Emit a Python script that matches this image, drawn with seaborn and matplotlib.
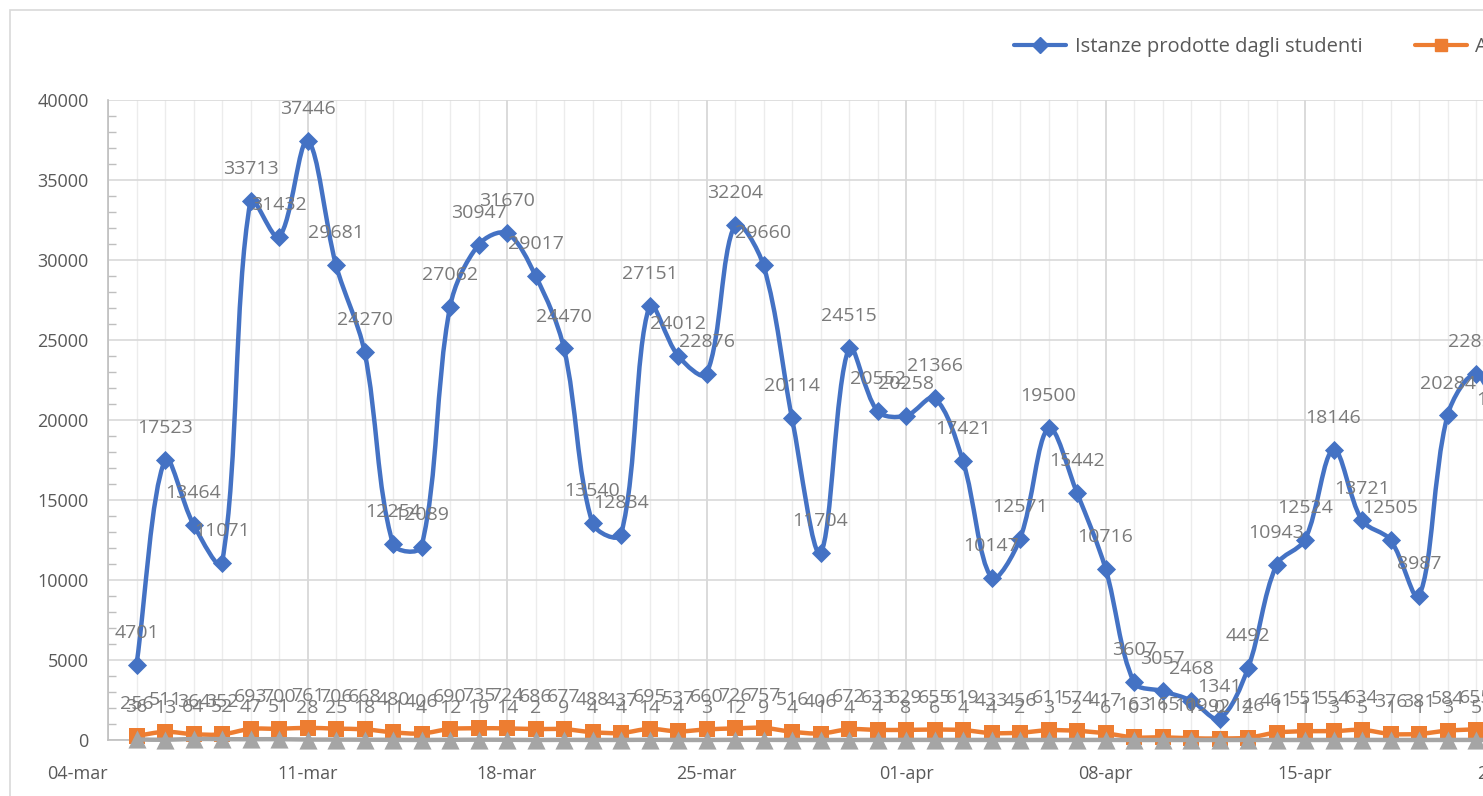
import numpy as np
import pandas as pd
import matplotlib
matplotlib.use("Agg")
import matplotlib.pyplot as plt
import matplotlib.dates as mdates
from matplotlib.path import Path
from matplotlib.patches import PathPatch, Rectangle
from matplotlib.lines import Line2D
import seaborn as sns

# daily values, starting 05-mar
start_date = "2020-03-05"
istanze = [4701, 17523, 13464, 11071, 33713, 31432, 37446, 29681, 24270, 12254,
           12089, 27062, 30947, 31670, 29017, 24470, 13540, 12834, 27151, 24012,
           22876, 32204, 29660, 20114, 11704, 24515, 20552, 20258, 21366, 17421,
           10147, 12571, 19500, 15442, 10716, 3607, 3057, 2468, 1341, 4492,
           10943, 12524, 18146, 13721, 12505, 8987, 20284, 22850, 19270]
accessi = [256, 511, 364, 352, 693, 700, 761, 706, 668, 480,
           406, 690, 735, 724, 686, 677, 488, 437, 695, 537,
           660, 726, 757, 516, 406, 672, 633, 629, 655, 619,
           433, 456, 611, 574, 417, 163, 165, 109, 92, 146,
           461, 551, 554, 634, 376, 381, 584, 655, 600]
terza = [36, 13, 64, 52, 47, 51, 28, 25, 18, 11,
         4, 12, 19, 14, 2, 9, 4, 4, 14, 4,
         3, 12, 9, 4, 1, 4, 4, 8, 6, 4,
         4, 2, 3, 2, 6, 0, 1, 1, 0, 2,
         1, 1, 3, 5, 1, 1, 3, 5, 3]
series_names = ["Istanze prodotte dagli studenti", "Accessi degli studenti", "Segnalazioni"]
tick_labels = ["04-mar", "11-mar", "18-mar", "25-mar", "01-apr", "08-apr", "15-apr", "22-apr", "29-apr"]

dates = pd.date_range(start_date, periods=len(istanze), freq="D")
df = pd.DataFrame({"data": dates, "istanze": istanze, "accessi": accessi, "terza": terza})

BLUE, ORANGE, GRAY = "#4472C4", "#ED7D31", "#A5A5A5"
LABEL_COL = "#7a7a7a"

sns.set_theme(style="white")
plt.rcParams["font.family"] = ["Open Sans", "DejaVu Sans"]

W, H = 1483, 796
fig = plt.figure(figsize=(W / 100, H / 100), dpi=100)
px_per_day = 28.5
y_px = 640 / 40000
x0 = pd.Timestamp("2020-03-04")
x1 = pd.Timestamp("2020-04-30")
n_days = (x1 - x0).days
ax = fig.add_axes([108 / W, 56 / H, n_days * px_per_day / W, 640 / H])


def smooth_path(xs, ys):
    # smoothed line like Excel: cubic Bezier, tangents weighted by chord length on screen
    scale = np.array([px_per_day, y_px])
    pts = np.column_stack([xs, ys]).astype(float) * scale
    verts, codes = [pts[0] / scale], [Path.MOVETO]
    n = len(pts)
    for i in range(n - 1):
        p0 = pts[i - 1] if i > 0 else pts[i]
        p1, p2 = pts[i], pts[i + 1]
        p3 = pts[i + 2] if i + 2 < n else pts[i + 1]
        d01 = np.linalg.norm(p1 - p0)
        d12 = np.linalg.norm(p2 - p1)
        d23 = np.linalg.norm(p3 - p2)
        f1 = d12 / (d01 + d12) if d01 + d12 > 0 else 0.5
        f2 = d12 / (d12 + d23) if d12 + d23 > 0 else 0.5
        c1 = p1 + (p2 - p0) * f1 / 3
        c2 = p2 - (p3 - p1) * f2 / 3
        verts += [c1 / scale, c2 / scale, p2 / scale]
        codes += [Path.CURVE4] * 3
    return Path(verts, codes)


xnum = mdates.date2num(df["data"])
specs = [("istanze", BLUE, "D", 95, 3.2),
         ("accessi", ORANGE, "s", 120, 3.2),
         ("terza", GRAY, "^", 170, 3.2)]
z = 3
for col, color, marker, size, lw in specs:
    ax.add_patch(PathPatch(smooth_path(xnum, df[col]), facecolor="none", edgecolor=color,
                           lw=lw, zorder=z, capstyle="round", joinstyle="round", clip_on=False))
    sns.scatterplot(data=df, x="data", y=col, marker=marker, s=size, color=color,
                    edgecolor=color, linewidth=0, zorder=z + 0.5, ax=ax, legend=False)
    ax.collections[-1].set_clip_on(False)
    z += 1

# data labels
for col in ["istanze", "accessi", "terza"]:
    for d, v in zip(df["data"], df[col]):
        ax.annotate(f"{v}", (d, v), xytext=(0, 23), textcoords="offset points",
                    ha="center", va="center", fontsize=14, color=LABEL_COL,
                    zorder=10, annotation_clip=False)

ax.set_xlim(x0, x1)
ax.set_ylim(0, 40000)
ax.set_yticks(np.arange(0, 40001, 5000))
ax.set_yticks(np.arange(0, 40001, 1000), minor=True)
ax.set_yticklabels([f"{v}" for v in range(0, 40001, 5000)])

major_dates = pd.date_range(x0, periods=len(tick_labels), freq="7D")
ax.set_xticks(major_dates)
ax.set_xticklabels(tick_labels)
ax.set_xticks(pd.date_range(x0, x1, freq="D"), minor=True)
ax.get_xticklabels()[0].set_horizontalalignment("right")

ax.grid(which="major", axis="y", color="#d9d9d9", lw=1.2)
ax.grid(which="major", axis="x", color="#d4d4d4", lw=1.2)
ax.grid(which="minor", axis="x", color="#ececec", lw=1.0)
ax.set_axisbelow(True)

ax.tick_params(axis="y", which="major", length=0, pad=14, labelsize=13, labelcolor="#595959")
ax.tick_params(axis="y", which="minor", direction="in", length=6, width=1, color="#bfbfbf", left=True)
ax.tick_params(axis="x", which="both", length=0, pad=18, labelsize=13, labelcolor="#595959")
for s in ["top", "right"]:
    ax.spines[s].set_visible(False)
for s in ["left", "bottom"]:
    ax.spines[s].set_color("#bfbfbf")
    ax.spines[s].set_linewidth(1.2)
ax.set_xlabel("")
ax.set_ylabel("")

handles = [Line2D([], [], color=c, lw=3, marker=m, markersize=8)
           for c, m in [(BLUE, "D"), (ORANGE, "s"), (GRAY, "^")]]
fig.legend(handles, series_names, loc="center left", bbox_to_anchor=(996 / W, 1 - 47 / H),
           ncol=3, frameon=False, fontsize=14.5, handlelength=2.6, columnspacing=2.6,
           handletextpad=0.4, labelcolor="#595959")

fig.patches.append(Rectangle((10 / W, -0.1), 1.2, (786 / H) + 0.1, transform=fig.transFigure,
                             fill=False, edgecolor="#d9d9d9", lw=1.2))

fig.savefig("out.png", dpi=100)
